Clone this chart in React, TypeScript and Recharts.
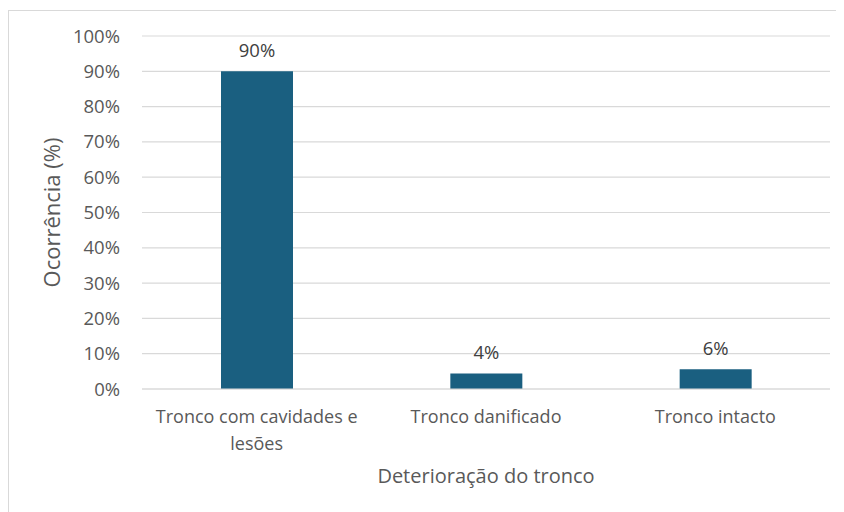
import { Bar, BarChart, CartesianGrid, Label, LabelList, Text, XAxis, YAxis } from "recharts";

const categories = ["Tronco com cavidades e lesões", "Tronco danificado", "Tronco intacto"];
const ocorrencia = [90, 4.4, 5.6];
const yTicks = [0, 10, 20, 30, 40, 50, 60, 70, 80, 90, 100];

const data = categories.map((name, i) => ({ name, value: ocorrencia[i] }));

const FONT = "'Open Sans', sans-serif";
const GREY = "#595959";
const BAR = "#1a5f80";

function CategoryTick(props: any) {
  const { x, y, payload } = props;
  return (
    <Text
      x={x}
      y={y + 26}
      width={220}
      textAnchor="middle"
      verticalAnchor="middle"
      lineHeight={26.6}
      fill={GREY}
      fontSize={18}
      fontFamily={FONT}
      style={{ fontFamily: FONT }}
    >
      {payload.value}
    </Text>
  );
}

export default function App() {
  return (
    <div
      style={{
        marginTop: 2,
        width: 832,
        height: 510,
        border: "1px solid #d9d9d9",
        borderBottom: "none",
        background: "#fff",
      }}
    >
      <BarChart
        width={832}
        height={500}
        data={data}
        margin={{ top: 25, right: 11, left: 0, bottom: 22 }}
        style={{ fontFamily: FONT }}
      >
        <CartesianGrid vertical={false} stroke="#d9d9d9" strokeWidth={1.2} />
        <XAxis
          dataKey="name"
          axisLine={{ stroke: "#d9d9d9", strokeWidth: 1.2 }}
          tickLine={false}
          interval={0}
          height={100}
          tick={<CategoryTick />}
        >
          <Label
            value="Deterioração do tronco"
            position="insideBottom"
            offset={6}
            fill={GREY}
            fontSize={20}
            fontFamily={FONT}
          />
        </XAxis>
        <YAxis
          domain={[0, 100]}
          ticks={yTicks}
          interval={0}
          width={133}
          axisLine={false}
          tickLine={false}
          tickMargin={16}
          tickFormatter={(v) => `${v}%`}
          tick={{ fill: GREY, fontSize: 18.5, fontFamily: FONT }}
        >
          <Label
            value="Ocorrência (%)"
            angle={-90}
            position="insideLeft"
            offset={43}
            fill={GREY}
            fontSize={22}
            fontFamily={FONT}
            style={{ textAnchor: "middle" }}
          />
        </YAxis>
        <Bar dataKey="value" fill={BAR} barSize={72} isAnimationActive={false}>
          <LabelList
            dataKey="value"
            position="top"
            offset={14}
            formatter={(v: any) => `${Math.round(Number(v))}%`}
            fill="#404040"
            fontSize={18.5}
            fontFamily={FONT}
          />
        </Bar>
      </BarChart>
    </div>
  );
}
